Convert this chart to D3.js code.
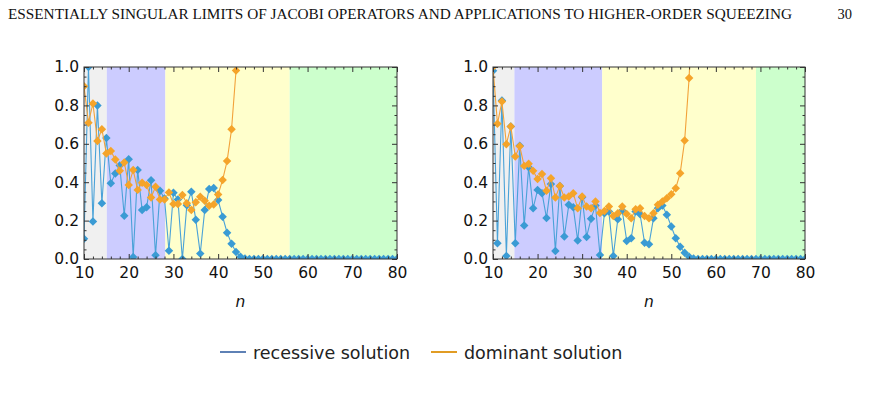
<!DOCTYPE html>
<html>
<head>
<meta charset="utf-8">
<script src="https://cdn.jsdelivr.net/npm/d3@7"></script>
<style>
  body { margin: 0; background: #fff; }
  svg { display: block; font-family: "DejaVu Sans", sans-serif; }
  .axis path { display: none; }
  .axis line { stroke: #333; }
</style>
</head>
<body>
<div id="chart"></div>
<script>
// ---- data ----
const headerText = "ESSENTIALLY SINGULAR LIMITS OF JACOBI OPERATORS AND APPLICATIONS TO HIGHER-ORDER SQUEEZING";
const pageNumber = "30";
const xTicks = [10, 20, 30, 40, 50, 60, 70, 80];
const yTicks = [0, 0.2, 0.4, 0.6, 0.8, 1.0];
const seriesNames = ["recessive solution", "dominant solution"];

// band edges (n) and colours: grey, blue, yellow, green
const bandColors = ["#f0f0f0", "#ccccff", "#ffffcc", "#ccffcc"];
const leftBands = [10, 15.1, 28.2, 56, 80];
const rightBands = [10, 14.8, 34.5, 69, 80];

// left panel, n = 10 ... 80
const leftRecessive = [0.105, 1.0, 0.195, 0.80, 0.29, 0.63, 0.395, 0.445, 0.487, 0.225,
  0.52, 0.01, 0.464, 0.255, 0.27, 0.41, 0.02, 0.355, 0.315, 0.043,
  0.345, 0.31, 0.0, 0.28, 0.35, 0.205, 0.028, 0.255, 0.365, 0.37,
  0.307, 0.22, 0.137, 0.08, 0.037, 0.012, 0.003, 0, 0, 0,
  0, 0, 0, 0, 0, 0, 0, 0, 0, 0,
  0, 0, 0, 0, 0, 0, 0, 0, 0, 0,
  0, 0, 0, 0, 0, 0, 0, 0, 0, 0, 0];
// left panel, n = 10 ... 45 (leaves the frame after 44)
const leftDominant = [0.9, 0.71, 0.81, 0.615, 0.676, 0.55, 0.563, 0.518, 0.46, 0.503,
  0.386, 0.463, 0.36, 0.397, 0.385, 0.32, 0.376, 0.31, 0.31, 0.347,
  0.286, 0.286, 0.333, 0.29, 0.255, 0.295, 0.324, 0.303, 0.277, 0.284,
  0.336, 0.412, 0.51, 0.676, 0.982, 1.5];

// right panel, n = 10 ... 80
const rightRecessive = [0.98, 0.082, 0.826, 0.016, 0.69, 0.082, 0.59, 0.174, 0.478, 0.264,
  0.36, 0.343, 0.214, 0.39, 0.042, 0.38, 0.117, 0.282, 0.27, 0.096,
  0.322, 0.115, 0.21, 0.278, 0.021, 0.238, 0.247, 0.016, 0.207, 0.252,
  0.094, 0.108, 0.247, 0.233, 0.085, 0.077, 0.212, 0.264, 0.278, 0.23,
  0.169, 0.108, 0.064, 0.033, 0.012, 0.003, 0, 0, 0, 0,
  0, 0, 0, 0, 0, 0, 0, 0, 0, 0,
  0, 0, 0, 0, 0, 0, 0, 0, 0, 0, 0];
// right panel, n = 10 ... 55
const rightDominant = [1.0, 0.704, 0.82, 0.598, 0.69, 0.534, 0.587, 0.485, 0.496, 0.459,
  0.417, 0.443, 0.355, 0.42, 0.32, 0.38, 0.32, 0.325, 0.343, 0.264,
  0.325, 0.273, 0.264, 0.3, 0.24, 0.25, 0.273, 0.224, 0.238, 0.273,
  0.235, 0.212, 0.259, 0.264, 0.224, 0.212, 0.238, 0.282, 0.3, 0.317,
  0.337, 0.369, 0.447, 0.617, 0.943, 1.5];

const W = 882, H = 403;
const svg = d3.select("#chart").append("svg").attr("width", W).attr("height", H);

// running header
svg.append("text")
  .attr("x", 8).attr("y", 19)
  .attr("textLength", 784).attr("lengthAdjust", "spacingAndGlyphs")
  .style("font-family", "'Liberation Serif', serif").style("font-size", "14.5px").attr("fill", "#111")
  .text(headerText);
svg.append("text")
  .attr("x", 852).attr("y", 19).attr("text-anchor", "end")
  .style("font-family", "'Liberation Serif', serif").style("font-size", "14.5px").attr("fill", "#111")
  .text(pageNumber);

function styleLabels(g) {
  g.selectAll("text")
    .style("font-family", "'DejaVu Sans', sans-serif")
    .style("font-size", "15.5px")
    .attr("fill", "#111");
}

class PanelVis {
  constructor(id, left, right, bands, recessive, dominant) {
    this.id = id;
    this.left = left;
    this.right = right;
    this.bands = bands;
    this.recessive = recessive;
    this.dominant = dominant;
    this.initVis();
  }

  initVis() {
    let vis = this;
    vis.top = 67;
    vis.bottom = 259;

    vis.x = d3.scaleLinear().domain([10, 80]).range([vis.left, vis.right]);
    vis.y = d3.scaleLinear().domain([0, 1]).range([vis.bottom, vis.top]);

    vis.g = svg.append("g");

    svg.append("clipPath").attr("id", "clip-" + vis.id)
      .append("rect")
      .attr("x", vis.left).attr("y", vis.top)
      .attr("width", vis.right - vis.left).attr("height", vis.bottom - vis.top);

    // coloured regions
    vis.g.selectAll(".band")
      .data(d3.pairs(vis.bands))
      .enter().append("rect")
      .attr("x", d => vis.x(d[0]))
      .attr("y", vis.top)
      .attr("width", d => vis.x(d[1]) - vis.x(d[0]))
      .attr("height", vis.bottom - vis.top)
      .attr("fill", (d, i) => bandColors[i]);

    const plot = vis.g.append("g").attr("clip-path", "url(#clip-" + vis.id + ")");
    const diamond = d3.symbol().type(d3.symbolSquare).size(36);

    const drawSeries = function (values, lineColor, markColor) {
      const pts = values.map((v, i) => [10 + i, v]);
      plot.append("path")
        .datum(pts)
        .attr("fill", "none")
        .attr("stroke", lineColor)
        .attr("stroke-width", 1.1)
        .attr("d", d3.line().x(d => vis.x(d[0])).y(d => vis.y(d[1])));
      plot.selectAll(null)
        .data(pts)
        .enter().append("path")
        .attr("d", diamond)
        .attr("fill", markColor)
        .attr("transform", d => "translate(" + vis.x(d[0]) + "," + vis.y(d[1]) + ") rotate(45)");
    };
    drawSeries(vis.recessive, "#4aa2d8", "#3a9bd4");
    drawSeries(vis.dominant, "#f2a23a", "#f5a42a");

    // frame
    vis.g.append("rect")
      .attr("x", vis.left).attr("y", vis.top)
      .attr("width", vis.right - vis.left).attr("height", vis.bottom - vis.top)
      .attr("fill", "none").attr("stroke", "#333").attr("stroke-width", 1);

    const xMinor = d3.range(10, 81, 2).filter(v => v % 10 !== 0);
    const yMinor = d3.range(0, 1.001, 0.05).filter(v => Math.abs(v * 5 - Math.round(v * 5)) > 1e-6);

    // bottom / top
    vis.g.append("g").attr("class", "axis")
      .attr("transform", "translate(0," + vis.bottom + ")")
      .call(d3.axisBottom(vis.x).tickValues(xTicks).tickSize(-5).tickPadding(8).tickFormat(d3.format("d")))
      .call(styleLabels);
    vis.g.append("g").attr("class", "axis")
      .attr("transform", "translate(0," + vis.bottom + ")")
      .call(d3.axisBottom(vis.x).tickValues(xMinor).tickSize(-2.5).tickFormat(""));
    vis.g.append("g").attr("class", "axis")
      .attr("transform", "translate(0," + vis.top + ")")
      .call(d3.axisTop(vis.x).tickValues(xTicks).tickSize(-5).tickFormat(""));
    vis.g.append("g").attr("class", "axis")
      .attr("transform", "translate(0," + vis.top + ")")
      .call(d3.axisTop(vis.x).tickValues(xMinor).tickSize(-2.5).tickFormat(""));

    // left / right
    vis.g.append("g").attr("class", "axis")
      .attr("transform", "translate(" + vis.left + ",0)")
      .call(d3.axisLeft(vis.y).tickValues(yTicks).tickSize(-5).tickPadding(5).tickFormat(d3.format(".1f")))
      .call(styleLabels);
    vis.g.append("g").attr("class", "axis")
      .attr("transform", "translate(" + vis.left + ",0)")
      .call(d3.axisLeft(vis.y).tickValues(yMinor).tickSize(-2.5).tickFormat(""));
    vis.g.append("g").attr("class", "axis")
      .attr("transform", "translate(" + vis.right + ",0)")
      .call(d3.axisRight(vis.y).tickValues(yTicks).tickSize(-5).tickFormat(""));
    vis.g.append("g").attr("class", "axis")
      .attr("transform", "translate(" + vis.right + ",0)")
      .call(d3.axisRight(vis.y).tickValues(yMinor).tickSize(-2.5).tickFormat(""));

    // axis label
    vis.g.append("text")
      .attr("x", (vis.left + vis.right) / 2).attr("y", 307)
      .attr("text-anchor", "middle")
      .style("font-style", "italic").style("font-size", "15.5px").attr("fill", "#111")
      .text("n");
  }
}

new PanelVis("a", 84, 397, leftBands, leftRecessive, leftDominant);
new PanelVis("b", 493, 805, rightBands, rightRecessive, rightDominant);

// legend
const legendColors = ["#5e81b5", "#e19c24"];
const legendX = [220, 431];
const legend = svg.append("g");
seriesNames.forEach((name, i) => {
  legend.append("line")
    .attr("x1", legendX[i]).attr("x2", legendX[i] + 26)
    .attr("y1", 352).attr("y2", 352)
    .attr("stroke", legendColors[i]).attr("stroke-width", 2);
  legend.append("text")
    .attr("x", legendX[i] + 33).attr("y", 358.5)
    .style("font-size", "17.5px").attr("fill", "#222")
    .text(name);
});
</script>
</body>
</html>
